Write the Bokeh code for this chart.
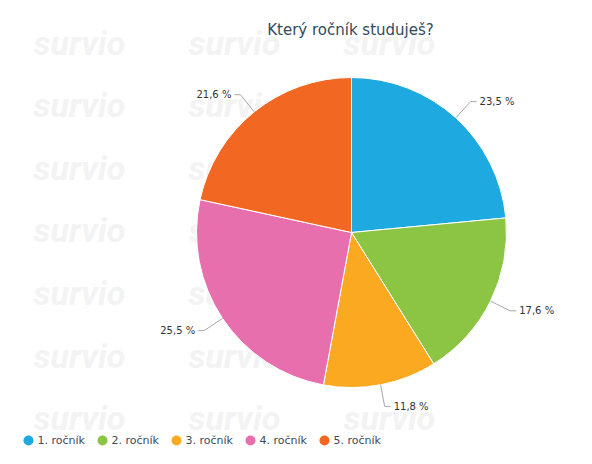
import math
from bokeh.plotting import figure
from bokeh.models import Range1d, ColumnDataSource
from bokeh.core.properties import value
from bokeh.embed import file_html
from bokeh.resources import INLINE

# ---- data ----
categories = ["1. ročník", "2. ročník", "3. ročník", "4. ročník", "5. ročník"]
percentages = [23.5, 17.6, 11.8, 25.5, 21.6]
colors = ["#1fa9e1", "#8cc443", "#fca922", "#e76fae", "#f26722"]
title_text = "Který ročník studuješ?"
watermark_text = "survio"

# ---- layout (picture pixel coordinates; data y = -picture y) ----
W, H = 576, 448
CX, CY, R = 351, 232, 155
FONT = "DejaVu Sans"

p = figure(width=W, height=H, output_backend="svg", toolbar_location=None,
           x_range=Range1d(0, W), y_range=Range1d(-H, 0),
           min_border=0)
p.axis.visible = False
p.grid.visible = False
p.outline_line_color = None
p.background_fill_color = "white"
p.border_fill_color = "white"

# watermark
wm_x, wm_y = [], []
for k in range(7):
    for j in range(3):
        wm_x.append(33 + 155 * j)
        wm_y.append(-(42 + 62.6 * k))
p.text(x=wm_x, y=wm_y, text=[watermark_text] * len(wm_x),
       text_font=value("Roboto"), text_font_style="bold italic",
       text_font_size="34px", text_color="#f3f3f3",
       text_baseline="middle", text_align="left")

# pie
total = sum(percentages)
starts, ends, mids = [], [], []
cum = 0.0
for v in percentages:
    a0 = math.pi / 2 - 2 * math.pi * cum / total
    cum += v
    a1 = math.pi / 2 - 2 * math.pi * cum / total
    starts.append(a0)
    ends.append(a1)
    mids.append((a0 + a1) / 2)

src = ColumnDataSource(dict(start=starts, end=ends, color=colors, cat=categories))
p.wedge(x=CX, y=-CY, radius=R, start_angle="start", end_angle="end",
        direction="clock", fill_color="color", line_color="white",
        line_width=1, source=src)

# data labels with connectors
D = 22
xs, ys = [], []
lx, ly, lt, la = [], [], [], []
for v, m in zip(percentages, mids):
    ux, uy = math.cos(m), math.sin(m)
    ex, ey = CX + R * ux, -CY + R * uy
    px, py = CX + (R + D) * ux, -CY + (R + D) * uy
    sgn = 1 if ux >= 0 else -1
    xs.append([ex, px, px + sgn * 6])
    ys.append([ey, py, py])
    lx.append(px + sgn * 9)
    ly.append(py)
    lt.append(f"{v:.1f}".replace(".", ",") + " %")
    la.append("left" if sgn > 0 else "right")
p.multi_line(xs=xs, ys=ys, line_color="#a8a8a8", line_width=1)
p.text(x=lx, y=ly, text=lt, text_align=la, text_baseline="middle",
       text_font=value(FONT), text_font_size="10px", text_color="#333333")

# title
p.text(x=[350], y=[-29], text=[title_text], text_align="center",
       text_baseline="alphabetic", text_font=value(FONT),
       text_font_size="15px", text_color="#34495e")

# legend
leg_x = [28 + 74 * i for i in range(len(categories))]
leg_y = [-440] * len(categories)
p.scatter(x=leg_x, y=leg_y, marker="circle", size=10, fill_color=colors,
          line_color=None)
p.text(x=[x + 9 for x in leg_x], y=leg_y, text=categories, text_align="left",
       text_baseline="middle", text_font=value(FONT), text_font_size="11px",
       text_color="#3d4b5a")

open("out.html", "w").write(file_html(p, INLINE))
